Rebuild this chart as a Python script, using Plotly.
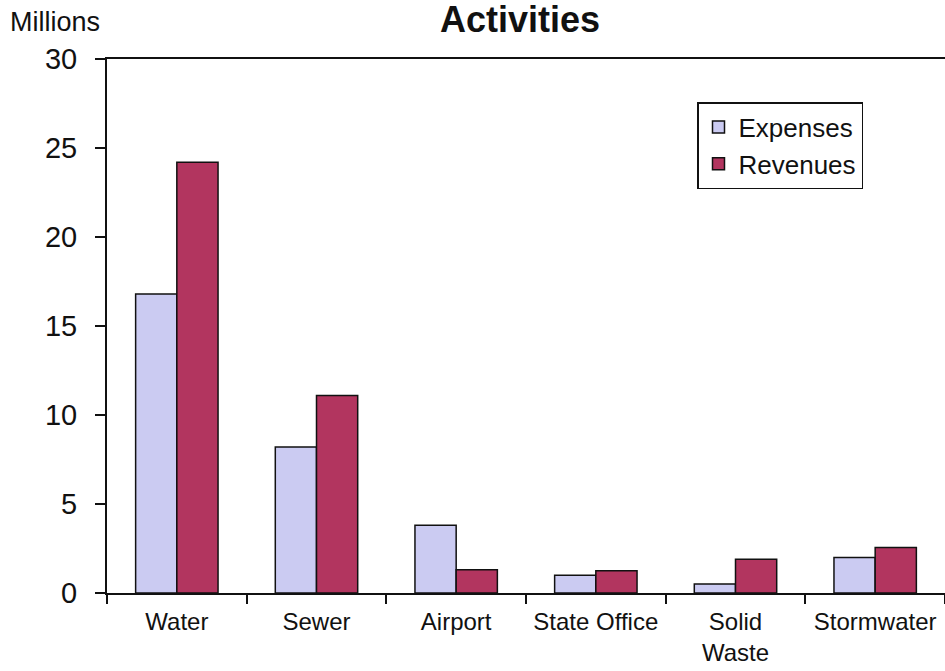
import plotly.graph_objects as go

categories = ["Water", "Sewer", "Airport", "State Office", "Solid<br>Waste", "Stormwater"]
expenses = [16.8, 8.2, 3.8, 1.0, 0.5, 2.0]
revenues = [24.2, 11.1, 1.3, 1.25, 1.9, 2.55]
y_ticks = [0, 5, 10, 15, 20, 25, 30]

FONT = "Arial, Liberation Sans, sans-serif"
W, H = 945, 671
L, R, T, B = 107, 0, 59, 78
PW, PH = W - L - R, H - T - B


def px_x(x):
    return (x - L) / PW


def px_y(y):
    return (H - B - y) / PH


fig = go.Figure()
fig.add_trace(go.Bar(
    x=categories, y=expenses, name="Expenses",
    marker=dict(color="#CBCBF2", line=dict(color="#111111", width=1.5)),
))
fig.add_trace(go.Bar(
    x=categories, y=revenues, name="Revenues",
    marker=dict(color="#B2355F", line=dict(color="#111111", width=1.5)),
))

fig.update_layout(
    width=W, height=H,
    margin=dict(l=L, r=R, t=T, b=B, autoexpand=False),
    paper_bgcolor="white", plot_bgcolor="white",
    barmode="group", bargap=0.41, bargroupgap=0,
    font=dict(family=FONT, color="#111111"),
    showlegend=True,
    legend=dict(
        x=px_x(697), y=px_y(102), xanchor="left", yanchor="top",
        bordercolor="#111111", borderwidth=1.5, bgcolor="white",
        font=dict(size=26, family=FONT),
        itemwidth=30, tracegroupgap=0,
    ),
    xaxis=dict(
        showline=True, linecolor="#111111", linewidth=2, mirror=True,
        ticks="outside", tickson="boundaries", ticklen=9, tickwidth=2,
        tickcolor="#111111", ticklabelstandoff=6, tickangle=0,
        automargin=False,
        tickfont=dict(size=24, family=FONT),
        showgrid=False, zeroline=False,
    ),
    yaxis=dict(
        range=[0, 30], tickvals=y_ticks,
        showline=True, linecolor="#111111", linewidth=2,
        ticks="outside", ticklen=10, tickwidth=2, tickcolor="#111111",
        ticklabelstandoff=12, automargin=False,
        tickfont=dict(size=29, family=FONT),
        showgrid=False, zeroline=False,
    ),
    annotations=[
        dict(text="Millions", xref="paper", yref="paper",
             x=px_x(8), y=px_y(22), xanchor="left", yanchor="middle",
             showarrow=False, font=dict(size=27, family=FONT)),
        dict(text="<b>Activities</b>", xref="paper", yref="paper",
             x=px_x(520), y=px_y(19), xanchor="center", yanchor="middle",
             showarrow=False, font=dict(size=36, family=FONT)),
    ],
)

fig.write_html("out.html")
